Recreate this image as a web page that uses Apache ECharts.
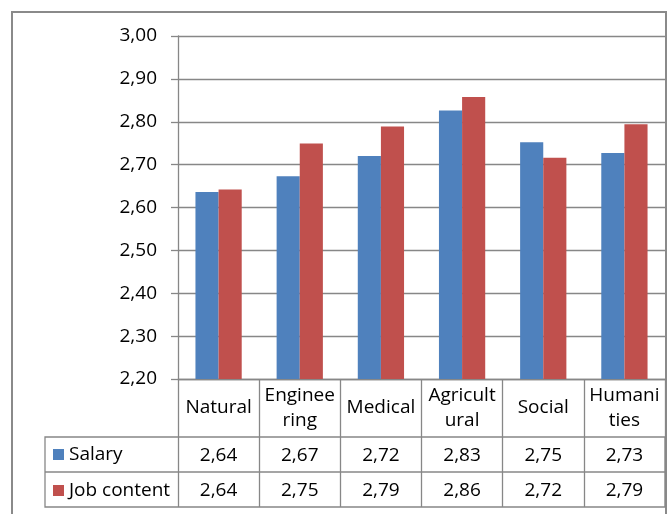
<!DOCTYPE html>
<html>
<head>
<meta charset="utf-8">
<script src="https://cdn.jsdelivr.net/npm/echarts@6/dist/echarts.min.js"></script>
<style>
    html, body { margin: 0; padding: 0; background: #fff; }
    #main { width: 668px; height: 514px; }
</style>
</head>
<body>
<div id="main"></div>
<script>
// data
var categories = ['Natural', 'Enginee\nring', 'Medical', 'Agricult\nural', 'Social', 'Humani\nties'];
var seriesNames = ['Salary', 'Job content'];
var salary = [2.636, 2.673, 2.720, 2.826, 2.752, 2.727];
var jobContent = [2.642, 2.749, 2.789, 2.858, 2.716, 2.794];
var yMin = 2.2, yMax = 3.0, yStep = 0.1;

var font = '"Open Sans", sans-serif';
var gridColor = '#878787';

function fmt(v) {
    return v.toFixed(2).replace('.', ',');
}

// layout of the plot and the data table under it
var plotLeft = 178, plotRight = 665, plotTop = 36, plotBottom = 379;
var tableLeft = 45, row1 = 437, row2 = 472, row3 = 507;

var myChart = echarts.init(document.getElementById('main'));
myChart.setOption({
    animation: false,
    color: ['#4F81BD', '#C0504D'],
    textStyle: { fontFamily: font },
    grid: {
        left: plotLeft,
        right: 668 - plotRight,
        top: plotTop,
        bottom: 514 - plotBottom
    },
    legend: {
        orient: 'vertical',
        left: 53,
        top: 445,
        padding: 0,
        icon: 'rect',
        itemWidth: 11,
        itemHeight: 11,
        itemGap: 17,
        data: seriesNames,
        textStyle: { fontSize: 19, color: '#000', fontFamily: font, lineHeight: 19 }
    },
    xAxis: [
        {
            type: 'category',
            data: categories,
            position: 'bottom',
            axisLine: { lineStyle: { color: gridColor, width: 1.3 } },
            axisTick: { show: true, interval: 0, length: row3 - plotBottom, lineStyle: { color: gridColor, width: 1.3 } },
            axisLabel: {
                interval: 0,
                margin: 29,
                verticalAlign: 'middle',
                lineHeight: 25,
                fontSize: 19,
                color: '#000',
                fontFamily: font
            }
        },
        {
            type: 'category',
            data: categories,
            position: 'bottom',
            offset: 0,
            axisLine: { show: false },
            axisTick: { show: false },
            axisLabel: {
                interval: 0,
                margin: (row1 + row2) / 2 - plotBottom + 1,
                verticalAlign: 'middle',
                fontSize: 19,
                color: '#000',
                fontFamily: font,
                formatter: function (v, i) { return fmt(salary[i]); }
            }
        },
        {
            type: 'category',
            data: categories,
            position: 'bottom',
            offset: 0,
            axisLine: { show: false },
            axisTick: { show: false },
            axisLabel: {
                interval: 0,
                margin: (row2 + row3) / 2 - plotBottom + 1,
                verticalAlign: 'middle',
                fontSize: 19,
                color: '#000',
                fontFamily: font,
                formatter: function (v, i) { return fmt(jobContent[i]); }
            }
        }
    ],
    yAxis: {
        type: 'value',
        min: yMin,
        max: yMax,
        interval: yStep,
        axisLine: { show: true, lineStyle: { color: gridColor, width: 1.3 } },
        axisTick: { show: true, length: 7, lineStyle: { color: gridColor, width: 1.3 } },
        splitLine: { lineStyle: { color: gridColor, width: 1.3 } },
        axisLabel: {
            margin: 21,
            fontSize: 19,
            color: '#000',
            fontFamily: font,
            formatter: function (v) { return fmt(v); }
        }
    },
    series: [
        {
            name: seriesNames[0],
            type: 'bar',
            data: salary,
            barGap: '0%',
            barCategoryGap: '43%'
        },
        {
            name: seriesNames[1],
            type: 'bar',
            data: jobContent,
            barGap: '0%',
            barCategoryGap: '43%'
        }
    ],
    graphic: [
        {
            type: 'rect',
            shape: { x: 12, y: 12, width: 654, height: 530 },
            style: { fill: 'none', stroke: '#8a8a8a', lineWidth: 2 },
            silent: true
        },
        {
            type: 'rect',
            shape: { x: tableLeft, y: row1, width: plotRight - tableLeft, height: row3 - row1 },
            style: { fill: 'none', stroke: gridColor, lineWidth: 1.3 },
            silent: true
        },
        {
            type: 'line',
            shape: { x1: tableLeft, y1: row2, x2: plotRight, y2: row2 },
            style: { stroke: gridColor, lineWidth: 1.3 },
            silent: true
        }
    ]
});
</script>
</body>
</html>
